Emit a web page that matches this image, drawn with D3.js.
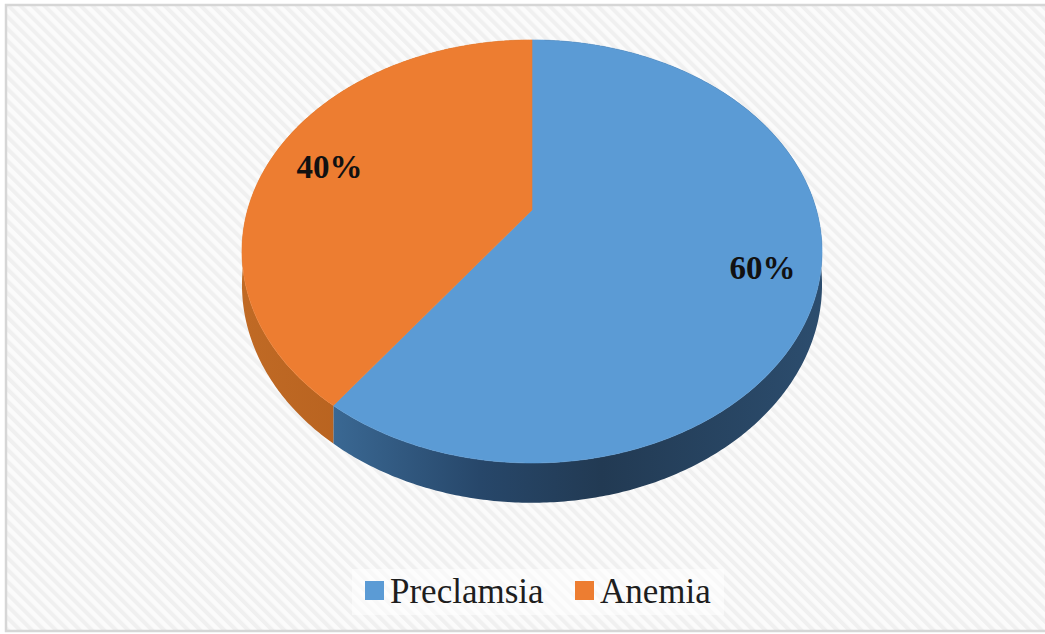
<!DOCTYPE html>
<html>
<head>
<meta charset="utf-8">
<script src="https://cdn.jsdelivr.net/npm/d3@7"></script>
<style>
  html, body { margin: 0; padding: 0; background: #ffffff; }
  svg { display: block; }
</style>
</head>
<body>
<div id="chart"></div>
<script>
// data
var categories = ["Preclamsia", "Anemia"];
var values = [60, 40];
var labels = ["60%", "40%"];
var topColors = ["#5b9bd5", "#ed7d31"];

var width = 1045, height = 634;

// 3D pie projection (perspective tilt)
var cx = 532, cy = 210;
var A = 284.4, B = 203.4, k = 0.196, H = 32;

// theta measured clockwise from the far (top) point
function proj(theta, r, down) {
  var u = r * Math.sin(theta), v = -r * Math.cos(theta);
  var w = 1 - k * v;
  return [cx + A * u / w, cy + (B * v + (down ? H : 0)) / w];
}

var svg = d3.select("#chart").append("svg")
  .attr("width", width)
  .attr("height", height);

var defs = svg.append("defs");

// diagonal stripes background
var pat = defs.append("pattern")
  .attr("id", "stripes")
  .attr("patternUnits", "userSpaceOnUse")
  .attr("width", 8.5)
  .attr("height", 8.5)
  .attr("patternTransform", "rotate(-45)");
pat.append("rect").attr("width", 8.5).attr("height", 8.5).attr("fill", "#fbfbfb");
pat.append("rect").attr("width", 4).attr("height", 8.5).attr("fill", "#f0f0f0");

svg.append("rect")
  .attr("x", 6).attr("y", 5)
  .attr("width", 1060).attr("height", 626)
  .attr("fill", "url(#stripes)")
  .attr("stroke", "#d6d6d6")
  .attr("stroke-width", 2.5);

// wall gradients
var wallStops = [
  [["0", "#3a6893"], ["0.3", "#27476a"], ["0.55", "#223a53"], ["1", "#2c4d6e"]],
  [["0", "#c06a25"], ["0.5", "#b5601e"], ["1", "#a9581b"]]
];
wallStops.forEach(function(stops, i) {
  var g = defs.append("linearGradient")
    .attr("id", "wall" + i)
    .attr("x1", 0).attr("x2", 1).attr("y1", 0).attr("y2", 0);
  stops.forEach(function(s) {
    g.append("stop").attr("offset", s[0]).attr("stop-color", s[1]);
  });
});

var pie = d3.pie().sort(null).value(function(d) { return d; });
var arcs = pie(values);

var line = d3.line();

function arcPoints(a0, a1, down) {
  var n = Math.max(2, Math.ceil((a1 - a0) / 0.01));
  return d3.range(n + 1).map(function(i) {
    return proj(a0 + (a1 - a0) * i / n, 1, down);
  });
}

var pieG = svg.append("g");

// walls first
arcs.forEach(function(a, i) {
  var topPts = arcPoints(a.startAngle, a.endAngle, false);
  var botPts = arcPoints(a.startAngle, a.endAngle, true).reverse();
  pieG.append("path")
    .attr("d", line(topPts.concat(botPts)) + "Z")
    .attr("fill", "url(#wall" + i + ")");
});

// top faces
arcs.forEach(function(a, i) {
  var pts = [proj(0, 0, false)].concat(arcPoints(a.startAngle, a.endAngle, false));
  pieG.append("path")
    .attr("d", line(pts) + "Z")
    .attr("fill", topColors[i])
    .attr("stroke", topColors[i])
    .attr("stroke-width", 0.6);
});

// labels
arcs.forEach(function(a, i) {
  var mid = (a.startAngle + a.endAngle) / 2;
  var p = proj(mid, 0.8, false);
  pieG.append("text")
    .attr("x", p[0] + (i === 0 ? 3 : 4))
    .attr("y", p[1] + 5)
    .attr("text-anchor", "middle")
    .attr("dominant-baseline", "central")
    .attr("font-family", "'Liberation Serif', 'Times New Roman', serif")
    .attr("font-weight", "bold")
    .attr("font-size", 33)
    .attr("fill", "#111111")
    .text(labels[i]);
});

// legend
var legend = svg.append("g");
legend.append("rect")
  .attr("x", 352).attr("y", 569)
  .attr("width", 372).attr("height", 46)
  .attr("fill", "#ffffff")
  .attr("opacity", 0.5);

var legendX = [365, 575];
categories.forEach(function(c, i) {
  legend.append("rect")
    .attr("x", legendX[i]).attr("y", 581)
    .attr("width", 19).attr("height", 19)
    .attr("fill", topColors[i]);
  legend.append("text")
    .attr("x", legendX[i] + 25)
    .attr("y", 603)
    .attr("font-family", "'Liberation Serif', 'Times New Roman', serif")
    .attr("font-size", 35)
    .attr("fill", "#1e1e1e")
    .text(c);
});
</script>
</body>
</html>
